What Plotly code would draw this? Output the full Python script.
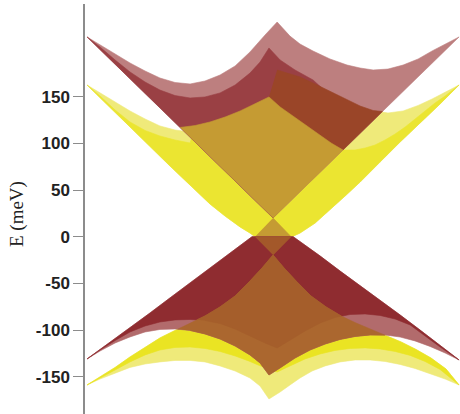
import plotly.graph_objects as go

# Band outlines: k in arbitrary units across the zone (-100 .. 100), E in meV.

# ---- upper red band ----
rc_back_k = [-100, -93.0, -84.9, -76.9, -68.8, -60.8, -52.7, -44.6, -36.6, -28.5, -20.4, -12.4, -4.3, 2.2,
             9.1, 14.5, 21.5, 30.6, 39.8, 46.8, 53.8, 61.8, 69.9, 78.0, 85.5, 93.0, 100]
rc_back_E = [214.0, 205.4, 195.7, 186.1, 177.5, 170.0, 165.2, 163.6, 166.8, 173.2, 182.9, 197.9, 216.1, 230.0,
             214.9, 206.4, 198.9, 190.4, 183.9, 180.7, 178.6, 179.6, 183.9, 190.4, 199.0, 206.5, 214.0]
rc_front_k = [-100, -93.0, -84.9, -76.9, -68.8, -60.8, -52.7, -44.6, -36.6, -28.5, -20.4, -12.4, -7.0, -2.2,
              3.8, 11.8, 21.5, 33.3, 44.1]
rc_front_E = [214.0, 203.2, 189.3, 176.5, 165.7, 157.1, 151.2, 148.6, 149.7, 154.0, 162.5, 175.3, 187.1, 202.2,
              189.3, 178.6, 167.9, 146.5, 117.5]
rc_sil_k = [-100, 0, 100]
rc_sil_E = [214, 20, 214]
rc_neck_k = [0, 9.7, -9.7]
rc_neck_E = [20, 0, 0]

# ---- upper yellow band ----
yc_back_k = [-100, -93.0, -84.9, -76.9, -68.8, -60.8, -52.7, -44.6, -36.6, -28.5, -20.4, -12.4, -4.3, 2.2,
             9.1, 14.5, 21.5, 28.0, 34.4, 39.8, 46.8, 53.8, 61.8, 69.9, 78.0, 85.5, 93.0, 100]
yc_back_E = [162.5, 153.9, 144.3, 134.7, 126.1, 118.6, 114.3, 112.2, 114.3, 120.7, 131.5, 146.5, 165.7, 178.6,
             174.3, 171.1, 164.7, 158.2, 151.8, 146.5, 140.0, 135.2, 132.5, 134.7, 140.6, 147.5, 155.0, 162.5]
yc_front_k = [-100, -93.0, -84.9, -76.9, -68.8, -60.8, -52.7, -44.6, -41.9, -33.9, -25.8, -17.7, -9.7, -2.2,
              3.8, 9.1, 14.5, 19.9, 25.3, 31.2, 37.6, 44.1, 49.5, 54.8, 60.2, 65.6, 71.0, 76.3, 81.7, 87.1,
              92.5, 96.2, 100]
yc_front_E = [162.5, 150.7, 135.7, 122.9, 113.8, 107.9, 103.6, 100.4, 119.1, 122.9, 128.2, 134.7, 142.2, 149.7,
              139.0, 131.5, 124.0, 116.5, 109.0, 100.4, 92.8, 92.9, 95.0, 98.2, 103.6, 110.0, 117.5, 126.1, 134.7,
              143.3, 150.7, 156.1, 162.5]
yc_sil_k = [-100, -87.6, -76.9, -66.1, -55.4, -44.6, -33.9, -25.8, -17.7, -12.4, -9.7,
            10.2, 14.5, 22.6, 30.6, 38.7, 46.8, 57.5, 68.3, 79.0, 89.8, 100]
yc_sil_E = [162.5, 138.4, 117.5, 96.6, 75.7, 54.8, 35.0, 22.1, 10.4, 3.9, 0,
            0, 3.9, 14.6, 28.5, 43.5, 58.5, 79.9, 101.4, 121.8, 142.2, 162.5]

# overlap of the two upper bands
gold_top_k = [-50, -41.9, -33.9, -25.8, -17.7, -9.7, -2.2, 3.8, 9.1, 14.5, 19.9, 25.3, 31.2, 37.6]
gold_top_E = [117.0, 119.1, 122.9, 128.2, 134.7, 142.2, 149.7, 139.0, 131.5, 124.0, 116.5, 109.0, 100.4, 92.8]
rust_cut = (58.8, 134.1)

# ---- lower red band ----
rv_sil_k = [-100, -87.6, -76.9, -66.1, -55.4, -44.6, -33.9, -25.8, -17.7, -11.3,
            10.8, 17.2, 25.3, 36.0, 46.8, 57.5, 68.3, 79.0, 89.8, 100]
rv_sil_E = [-131.0, -113.3, -97.8, -81.7, -65.6, -49.6, -33.5, -21.2, -8.9, 0,
            0, -8.9, -20.7, -36.8, -52.3, -67.8, -83.9, -100.0, -116.0, -132.1]
rv_back_k = [-100, -93.0, -84.9, -76.9, -68.8, -60.8, -52.7, -44.6, -36.6, -28.5, -20.4, -12.4, -4.3, 2.2,
             9.1, 17.2, 25.3, 33.3, 41.4, 49.5, 57.5, 65.6, 73.7, 81.7, 89.8, 100]
rv_back_E = [-131.0, -121.4, -111.2, -102.1, -95.7, -91.4, -89.2, -88.7, -89.8, -93.0, -98.9, -106.4, -113.9, -119.2,
             -110.6, -101.0, -92.5, -86.6, -83.4, -82.8, -84.4, -88.2, -94.6, -106.4, -118.2, -132.1]
rv_front_k = [-100, -93.0, -84.9, -76.9, -68.8, -60.8, -52.7, -44.6, -36.6, -28.5, -20.4, -12.4, -7.0, -2.2,
              3.8, 11.8, 19.9, 28.0, 36.0, 44.1, 52.2, 60.2, 68.3, 76.3, 84.4, 92.5, 100]
rv_front_E = [-131.0, -122.5, -113.9, -107.4, -102.1, -99.4, -98.9, -100.5, -104.2, -109.6, -117.1, -126.7, -135.3, -148.2,
              -140.7, -130.0, -121.4, -115.0, -110.1, -106.9, -105.3, -105.3, -107.5, -111.7, -117.6, -124.6, -132.1]

# ---- lower yellow band ----
yv_sil_k = [-100, -93.0, -84.9, -76.9, -68.8, -60.8, -52.7, -44.6, -36.6, -28.5, -20.4, -12.4, -5.9, 0,
            5.9, 12.4, 20.4, 28.5, 36.6, 44.6, 52.7, 60.8, 68.8, 76.9, 84.9, 93.0, 100]
yv_sil_E = [-158.9, -150.3, -140.1, -128.9, -118.2, -108.5, -100.5, -93.0, -85.0, -75.3, -63.6, -47.5, -33.5, -19.6,
            -33.5, -47.5, -63.6, -75.3, -85.0, -92.5, -99.4, -105.9, -112.8, -120.9, -130.0, -141.8, -158.9]
yv_back_k = [-100, -93.0, -84.9, -76.9, -68.8, -60.8, -52.7, -44.6, -36.6, -28.5, -20.4, -12.4, -4.3, 2.2,
             9.1, 17.2, 25.3, 33.3, 41.4, 49.5, 57.5, 65.6, 73.7, 81.7, 89.8, 100]
yv_back_E = [-158.9, -151.4, -142.8, -134.2, -126.7, -121.4, -118.7, -118.2, -119.8, -123.0, -127.8, -133.7, -140.7, -145.0,
             -138.5, -131.0, -125.7, -121.9, -119.8, -119.2, -120.3, -123.0, -127.2, -133.7, -142.3, -158.9]
yv_front_k = [-100, -93.0, -84.9, -76.9, -68.8, -60.8, -52.7, -44.6, -36.6, -28.5, -20.4, -12.4, -7.0, -2.2,
              3.8, 9.1, 14.5, 21.0, 28.0, 36.0, 44.1, 52.2, 60.2, 68.3, 76.3, 84.4, 92.5, 100]
yv_front_E = [-158.9, -152.5, -146.0, -140.1, -136.4, -134.2, -132.6, -132.6, -134.2, -138.5, -143.9, -151.4, -160.0, -173.9,
              -166.4, -158.9, -151.4, -143.9, -138.5, -134.2, -132.1, -132.1, -133.7, -136.9, -141.2, -146.5, -152.5, -158.9]
yv_neck_k = [-9.7, 9.7, 0]
yv_neck_E = [0, 0, -19.6]

# crossings of the lower yellow outline with the red edges
light_left, light_right = (-51.3, -99.2), (60.1, -105.5)
dark_left, dark_right = (-40.9, -89.1), (36.7, -85.1)

e_ticks = [150, 100, 50, 0, -50, -100, -150]
e_labels = ["150", "100", "50", "0", "-50", "-100", "-150"]

COLORS = {
    "pale_red": "#BD7F7F", "dark_red": "#9A4044", "rust": "#9A4528",
    "gold": "#C59B33", "pale_yellow": "#EFEA7A", "yellow": "#EBE531",
    "yellow_low": "#EAE423", "pale_red_low": "#B26B6C", "dark_red_low": "#8F2C30",
    "brown": "#A55E2B", "brown_light": "#AB672F", "brown_neck": "#A3582A",
}


def region(top_k, top_E, bot_k, bot_E):
    """Closed outline: top edge left->right, then bottom edge right->left."""
    return list(top_k) + list(bot_k)[::-1], list(top_E) + list(bot_E)[::-1]


def sl(ks, es, lo, hi):
    return list(ks[lo:hi]), list(es[lo:hi])


shapes = []

# upper half
shapes.append((region(yc_back_k, yc_back_E, yc_sil_k, yc_sil_E), "pale_yellow"))
shapes.append((region(yc_front_k, yc_front_E, yc_sil_k, yc_sil_E), "yellow"))
shapes.append((region(rc_back_k, rc_back_E, rc_sil_k, rc_sil_E), "pale_red"))
shapes.append((region(rc_front_k, rc_front_E, rc_sil_k[:2], rc_sil_E[:2]), "dark_red"))
rk, re_ = sl(yc_back_k, yc_back_E, 13, 22)
gk, ge = sl(gold_top_k, gold_top_E, 6, 14)
shapes.append((region(rk + [rust_cut[0]], re_ + [rust_cut[1]], gk, ge), "rust"))
shapes.append(((gold_top_k + [rc_sil_k[1]], gold_top_E + [rc_sil_E[1]]), "gold"))
shapes.append(((rc_neck_k, rc_neck_E), "gold"))

# lower half
shapes.append((region(yv_sil_k, yv_sil_E, yv_front_k, yv_front_E), "pale_yellow"))
shapes.append((region(yv_sil_k, yv_sil_E, yv_back_k, yv_back_E), "yellow_low"))
shapes.append((region(rv_sil_k, rv_sil_E, rv_front_k, rv_front_E), "pale_red_low"))
shapes.append((region(rv_sil_k, rv_sil_E, rv_back_k, rv_back_E), "dark_red_low"))
tk, te = sl(yv_sil_k, yv_sil_E, 7, 21)
bk, be = sl(rv_front_k, rv_front_E, 7, 21)
shapes.append((region([light_left[0]] + tk + [light_right[0]],
                      [light_left[1]] + te + [light_right[1]], bk, be), "brown_light"))
tk, te = sl(yv_sil_k, yv_sil_E, 8, 19)
bk, be = sl(rv_back_k, rv_back_E, 8, 18)
shapes.append((region([dark_left[0]] + tk + [dark_right[0]],
                      [dark_left[1]] + te + [dark_right[1]], bk, be), "brown"))
shapes.append(((yv_neck_k, yv_neck_E), "brown_neck"))

fig = go.Figure()
for (xs, ys), cname in shapes:
    c = COLORS[cname]
    fig.add_trace(go.Scatter(
        x=xs, y=ys, mode="lines", fill="toself", fillcolor=c,
        line=dict(color=c, width=0.6), hoverinfo="skip", showlegend=False,
    ))

fig.update_layout(
    width=460, height=414,
    margin=dict(l=85, r=0, t=4, b=0),
    paper_bgcolor="white", plot_bgcolor="white",
    xaxis=dict(visible=False, range=[-101.1, 100.5]),
    yaxis=dict(
        range=[-190, 249.3], tickvals=e_ticks, ticktext=e_labels,
        ticks="outside", ticklen=10, tickwidth=1.2, tickcolor="#8c8c8c",
        showline=True, linecolor="#8c8c8c", linewidth=1.5,
        showgrid=False, zeroline=False,
        tickfont=dict(family="Liberation Sans, Arial, sans-serif", size=17, color="#222222", weight="bold"),
    ),
    annotations=[dict(
        text="E (meV)", textangle=-90, showarrow=False,
        xref="paper", yref="paper", x=-0.181, y=0.488,
        xanchor="center", yanchor="middle",
        font=dict(family="Liberation Serif, Times New Roman, serif", size=19, color="#222222"),
    )],
)

fig.write_html("out.html")
